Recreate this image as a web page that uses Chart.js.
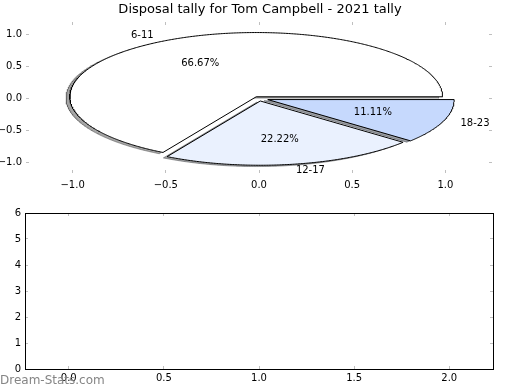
<!DOCTYPE html>
<html>
<head>
<meta charset="utf-8">
<script src="https://cdn.jsdelivr.net/npm/chart.js@4.4.1/dist/chart.umd.min.js"></script>
<style>
    html, body { margin: 0; padding: 0; background: #fff; }
    #wrap { position: relative; width: 520px; height: 390px; overflow: hidden; }
    #pieCanvas   { position: absolute; left: 0; top: 0; }
    #emptyCanvas { position: absolute; left: 0; top: 200px; }
    #watermark {
        position: absolute; left: 0; top: 373px;
        font: 12px 'DejaVu Sans', sans-serif; color: #858585;
    }
</style>
</head>
<body>
<div id="wrap">
    <canvas id="pieCanvas" width="520" height="200"></canvas>
    <canvas id="emptyCanvas" width="520" height="190"></canvas>
    <div id="watermark">Dream-Stats.com</div>
</div>
<script>
// ─── Data ─────────────────────────────────────────────────────────────────────
const chartTitle   = 'Disposal tally for Tom Campbell - 2021 tally';
const ranges       = ['6-11', '12-17', '18-23'];
const games        = [6, 2, 1];
const explode      = [0.03, 0.04, 0.05];
const sliceColours = ['#ffffff', '#eaf1fe', '#c6d9fd'];

const pieXTicks   = [-1.0, -0.5, 0.0, 0.5, 1.0];
const pieYTicks   = [-1.0, -0.5, 0.0, 0.5, 1.0];
const emptyXTicks = [0.0, 0.5, 1.0, 1.5, 2.0];
const emptyYTicks = [0, 1, 2, 3, 4, 5, 6];

const FONT      = "'DejaVu Sans', sans-serif";
const TICK_GREY = '#bfbfbf';
const SHADOW_OFFSET = -0.02;   // matplotlib-style shadow, in data units

// ─── Pie geometry (angles from the counts, start at 0°, counter-clockwise) ───
function wedges() {
    const total = games.reduce((a, b) => a + b, 0);
    let acc = 0;
    return games.map((v, i) => {
        const t1 = 360 * acc / total;
        acc += v;
        const t2 = 360 * acc / total;
        const mid = (t1 + t2) / 2 * Math.PI / 180;
        return {
            t1, t2, mid,
            cx: explode[i] * Math.cos(mid),
            cy: explode[i] * Math.sin(mid),
            pct: 100 * v / total
        };
    });
}

function wedgeOutline(w, dx, dy) {
    const ox = w.cx + dx, oy = w.cy + dy;
    const pts = [{ x: ox, y: oy }];
    const steps = Math.ceil((w.t2 - w.t1) / 0.5);
    for (let k = 0; k <= steps; k++) {
        const a = (w.t1 + (w.t2 - w.t1) * k / steps) * Math.PI / 180;
        pts.push({ x: ox + Math.cos(a), y: oy + Math.sin(a) });
    }
    pts.push({ x: ox, y: oy });
    return pts;
}

function shadowColour(hex) {
    const n = parseInt(hex.slice(1), 16);
    const r = Math.round(((n >> 16) & 255) * 0.3);
    const g = Math.round(((n >> 8) & 255) * 0.3);
    const b = Math.round((n & 255) * 0.3);
    return `rgba(${r},${g},${b},0.5)`;
}

// ─── Axis helper: matplotlib-like inward grey ticks ───────────────────────────
function axis(position, min, max, tickValues, size, opts = {}) {
    const horizontal = position === 'top' || position === 'bottom';
    return {
        type: 'linear',
        display: true,
        position,
        min, max,
        bounds: 'data',
        afterBuildTicks: s => { s.ticks = tickValues.map(v => ({ value: v })); },
        afterFit: s => { if (horizontal) s.height = size; else s.width = size; },
        ticks: {
            display: !!opts.labels,
            autoSkip: false,
            maxRotation: 0,
            padding: opts.padding ?? 7,
            color: '#000',
            font: { family: FONT, size: 10 },
            callback: opts.format || (v => String(v))
        },
        grid: {
            drawOnChartArea: false,
            drawTicks: true,
            tickLength: -3,
            color: TICK_GREY,
            lineWidth: 1
        },
        border: { display: !!opts.border, color: '#000', width: 1 }
    };
}

const fmtSigned = v => v.toFixed(1).replace('-', '\u2212');

// ─── Pie labels (ranges outside, percentages inside) ─────────────────────────
const pieTextPlugin = {
    id: 'pieText',
    afterDatasetsDraw(chart) {
        const { ctx, scales: { x, y } } = chart;
        ctx.save();
        ctx.font = `10px ${FONT}`;
        ctx.fillStyle = '#000';
        ctx.textBaseline = 'middle';
        wedges().forEach((w, i) => {
            const c = Math.cos(w.mid), s = Math.sin(w.mid);
            const lx = w.cx + 1.1 * c, ly = w.cy + 1.1 * s;
            ctx.textAlign = lx < 0 ? 'right' : 'left';
            ctx.fillText(ranges[i], x.getPixelForValue(lx), y.getPixelForValue(ly));
            const px = w.cx + 0.6 * c, py = w.cy + 0.6 * s;
            ctx.textAlign = 'center';
            ctx.fillText(w.pct.toFixed(2) + '%', x.getPixelForValue(px), y.getPixelForValue(py));
        });
        ctx.restore();
    }
};

// ─── Top chart: exploded pie drawn on linear axes ────────────────────────────
const ws = wedges();
const sliceSets = ws.map((w, i) => ({
    label: ranges[i],
    data: wedgeOutline(w, 0, 0),
    backgroundColor: sliceColours[i],
    borderColor: '#000',
    borderWidth: 1,
    fill: 'shape',
    order: 0
}));
const shadowSets = ws.map((w, i) => ({
    label: ranges[i] + ' shadow',
    data: wedgeOutline(w, SHADOW_OFFSET, SHADOW_OFFSET),
    backgroundColor: shadowColour(sliceColours[i]),
    borderColor: shadowColour(sliceColours[i]),
    borderWidth: 1,
    fill: 'shape',
    order: 1
}));

new Chart(document.getElementById('pieCanvas'), {
    type: 'line',
    data: { datasets: [...sliceSets, ...shadowSets] },
    options: {
        responsive: false,
        devicePixelRatio: 1,
        animation: false,
        events: [],
        elements: {
            line: { tension: 0 },
            point: { radius: 0, hoverRadius: 0 }
        },
        layout: { padding: 0 },
        plugins: {
            legend: { display: false },
            tooltip: { enabled: false },
            title: {
                display: true,
                text: chartTitle,
                color: '#000',
                font: { family: FONT, size: 13, weight: 'normal' },
                padding: { top: 2, bottom: 4.4 }
            }
        },
        scales: {
            x:  axis('bottom', -1.25, 1.25, pieXTicks, 27, { labels: true, format: fmtSigned, padding: 9 }),
            x2: axis('top',    -1.25, 1.25, pieXTicks, 0),
            y:  axis('left',   -1.16, 1.19, pieYTicks, 26, { labels: true, format: fmtSigned, padding: 7 }),
            y2: axis('right',  -1.16, 1.19, pieYTicks, 28)
        }
    },
    plugins: [pieTextPlugin]
});

// ─── Bottom chart: empty framed axes ─────────────────────────────────────────
new Chart(document.getElementById('emptyCanvas'), {
    type: 'line',
    data: { datasets: [] },
    options: {
        responsive: false,
        devicePixelRatio: 1,
        animation: false,
        events: [],
        layout: { padding: 0 },
        plugins: { legend: { display: false }, tooltip: { enabled: false } },
        scales: {
            x:  axis('bottom', -0.23, 2.23, emptyXTicks, 21, { labels: true, border: true, format: v => v.toFixed(1), padding: 6 }),
            x2: axis('top',    -0.23, 2.23, emptyXTicks, 11, { border: true }),
            y:  axis('left',   0, 6, emptyYTicks, 25, { labels: true, border: true, padding: 7 }),
            y2: axis('right',  0, 6, emptyYTicks, 27, { border: true })
        }
    }
});
</script>
</body>
</html>
